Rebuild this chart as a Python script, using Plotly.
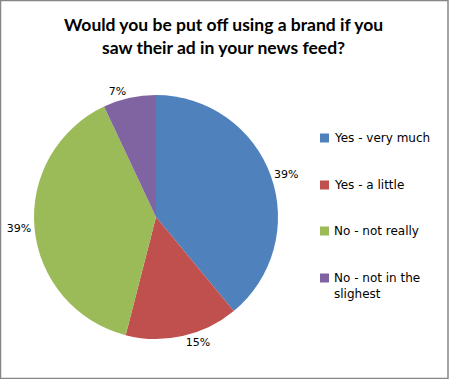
import plotly.graph_objects as go

labels = ["Yes - very much", "Yes - a little", "No - not really", "No - not in the slighest"]
legend_text = ["Yes - very much", "Yes - a little", "No - not really", "No - not in the<br>slighest"]
values = [39, 15, 39, 7]
colors = ["#4F81BD", "#C0504D", "#9BBB59", "#8064A2"]
title_text = "<b>Would you be put off using a brand if you<br>saw their ad in your news feed?</b>"

W, H = 449, 379
fig = go.Figure()
fig.add_trace(go.Pie(
    labels=labels, values=values, sort=False, direction="clockwise", rotation=0,
    marker=dict(colors=colors, line=dict(width=0)),
    textinfo="percent", texttemplate="%{percent:.0%}", textposition="outside",
    textfont=dict(family="DejaVu Sans", size=11, color="#000000"),
    showlegend=False,
    domain=dict(x=[34 / W, 278 / W], y=[(H - 339) / H, (H - 95) / H]),
))

# manual legend
legend_y = [138, 185, 231, 278]
for i, (txt, c) in enumerate(zip(legend_text, colors)):
    yc = legend_y[i]
    fig.add_shape(type="rect", xref="paper", yref="paper",
                  x0=320 / W, x1=329 / W, y0=(H - yc - 4.5) / H, y1=(H - yc + 4.5) / H,
                  fillcolor=c, line=dict(width=0))
    fig.add_annotation(xref="paper", yref="paper", x=332 / W, y=(H - yc + 9) / H,
                       text=txt, showarrow=False, xanchor="left", yanchor="top", align="left",
                       font=dict(family="DejaVu Sans", size=12, color="#000000"))

# title
fig.add_annotation(xref="paper", yref="paper", x=223 / W, y=(H - 12) / H,
                   text=title_text, showarrow=False, xanchor="center", yanchor="top", align="center",
                   font=dict(family="Lato", size=17.5, color="#000000"))

fig.add_shape(type="rect", xref="paper", yref="paper", x0=0.5 / W, x1=1 - 1 / W, y0=0.5 / H, y1=1 - 0.5 / H,
              line=dict(color="#868686", width=1.5))

fig.update_layout(
    width=W, height=H,
    margin=dict(l=0, r=0, t=0, b=0),
    paper_bgcolor="white",
)
fig.write_html("out.html")
